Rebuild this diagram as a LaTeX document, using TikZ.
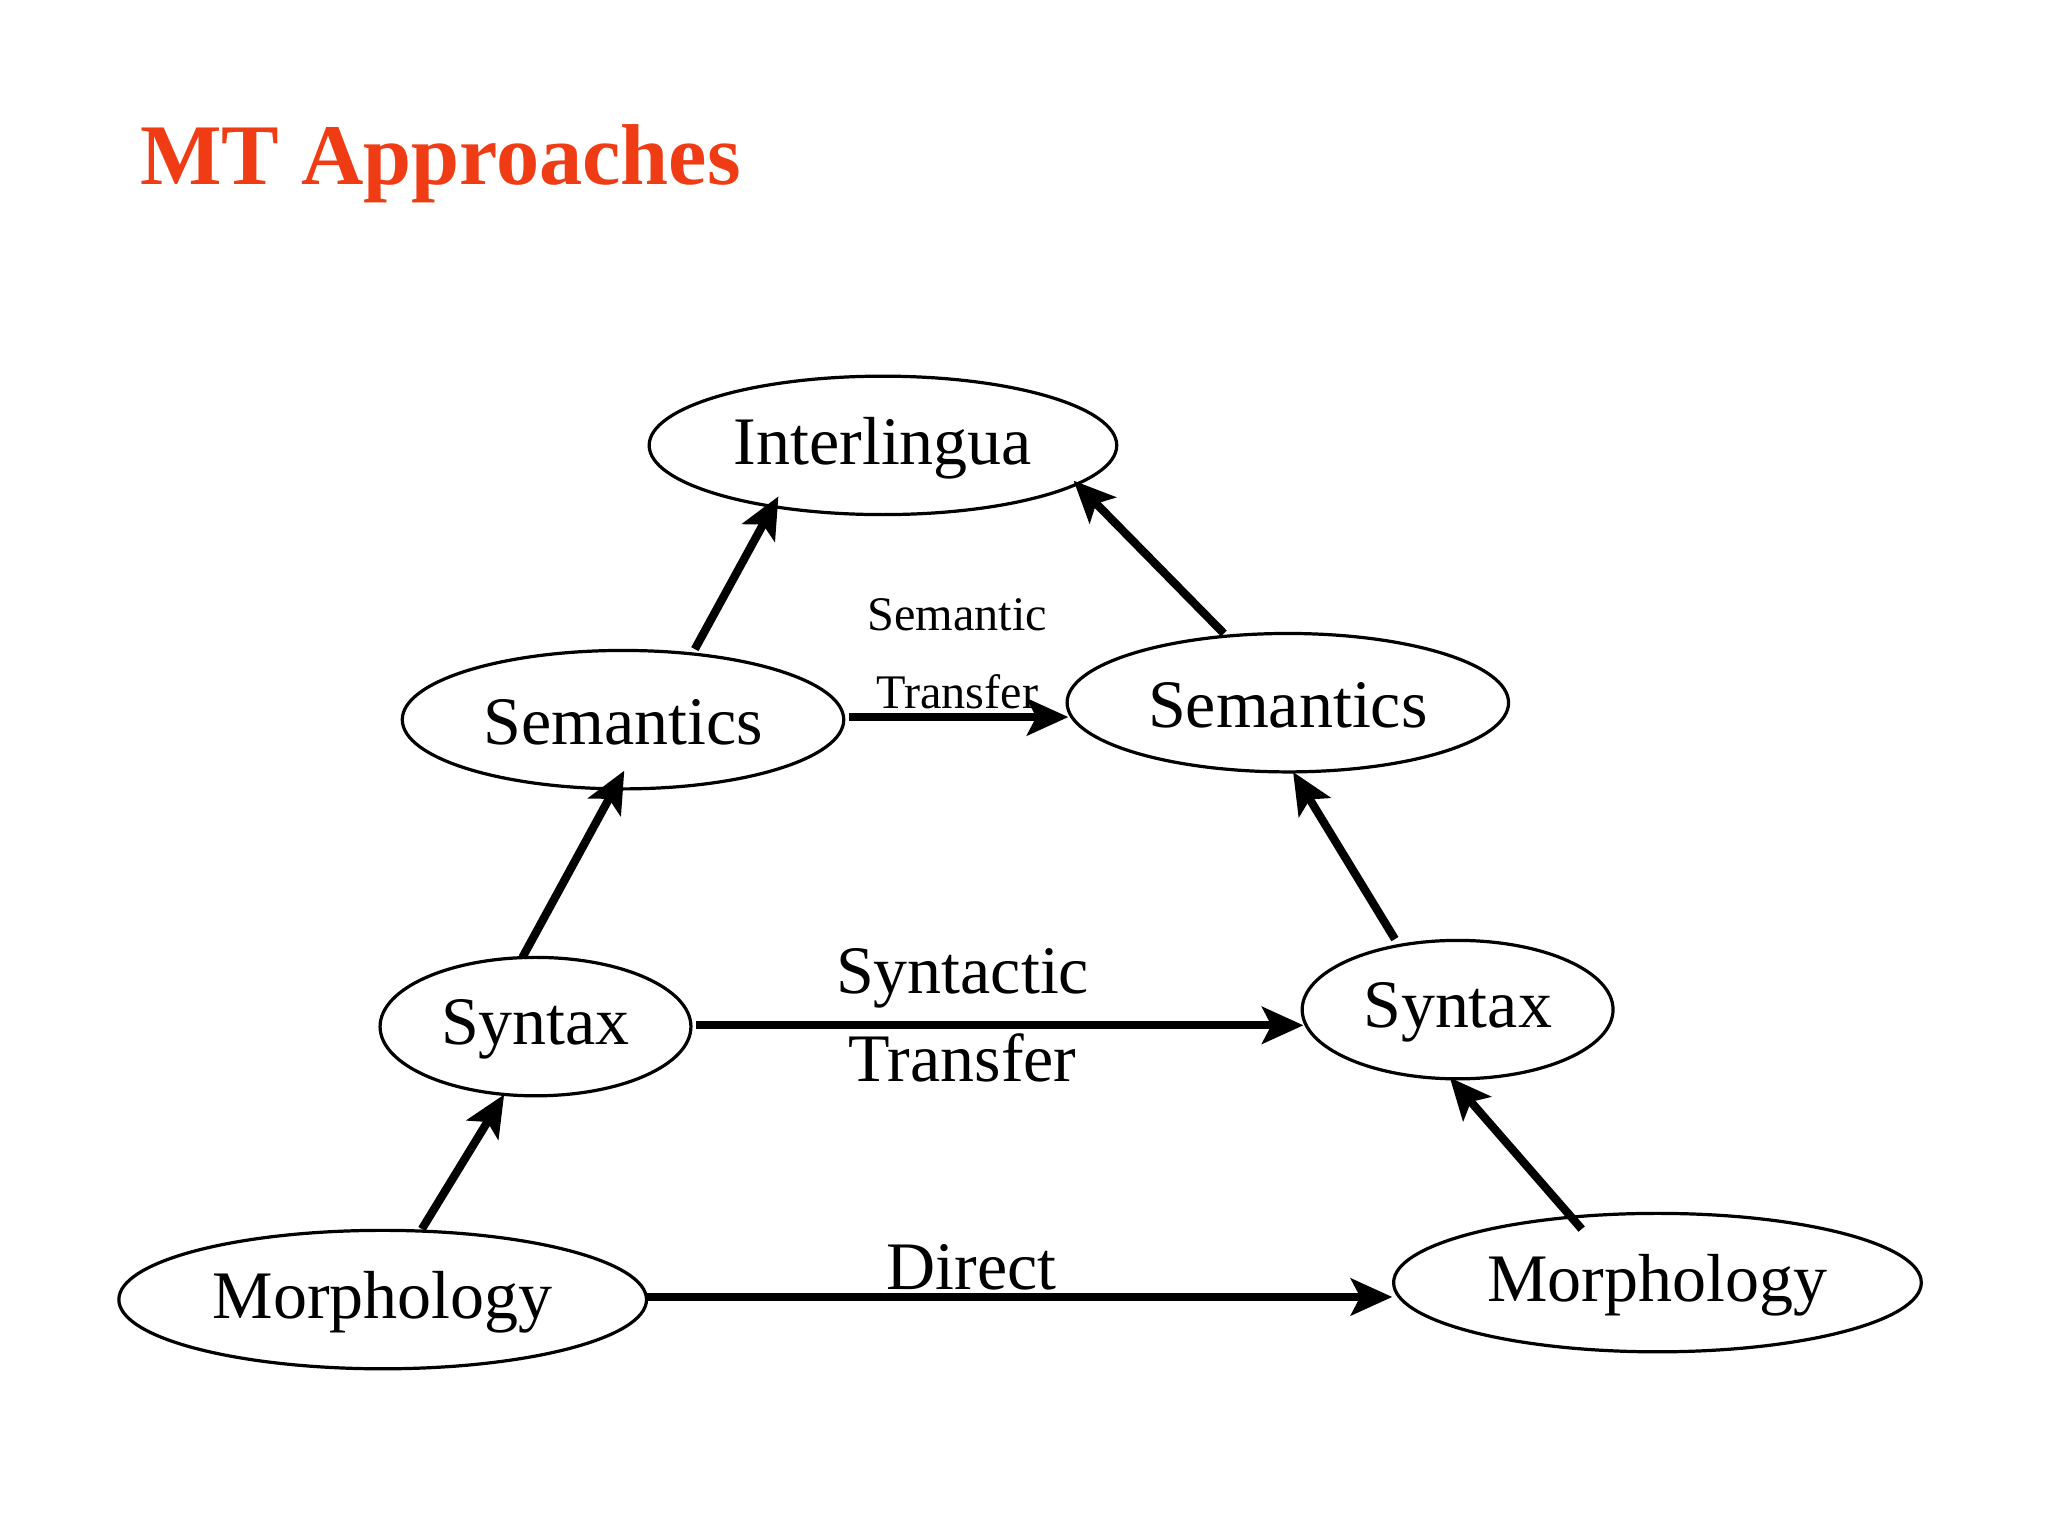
\documentclass[tikz,border=0pt]{standalone}
\usepackage{fontspec}
\setmainfont{Liberation Serif}
\usetikzlibrary{shapes.geometric,arrows.meta}
\definecolor{titlered}{RGB}{240,60,20}
\begin{document}
\begin{tikzpicture}[x=0.01cm,y=-0.01cm,
  ell/.style={draw,line width=0.7pt},
  lbl/.style={font=\fontsize{14.8}{18}\selectfont},
  slbl/.style={font=\fontsize{10.5}{12}\selectfont},
  arr/.style={line width=1.8pt,-{Stealth[length=9pt,width=8pt,inset=2pt]}}]
\useasboundingbox (0,0) rectangle (1568,1176);
\node[anchor=west,text=titlered,font=\fontsize{18.8}{22}\selectfont\bfseries] (title) at (95,125) {MT Approaches};
\draw[ell] (676,341) ellipse [x radius=179,y radius=53];
\draw[ell] (477,551) ellipse [x radius=169,y radius=53];
\draw[ell] (986,538) ellipse [x radius=169,y radius=53];
\draw[ell] (410,786) ellipse [x radius=119,y radius=53];
\draw[ell] (1116,773) ellipse [x radius=119,y radius=53];
\draw[ell] (293,995) ellipse [x radius=202,y radius=53];
\draw[ell] (1269,982) ellipse [x radius=202,y radius=53];
\node[lbl] (inter) at (676,343) {Interlingua};
\node[lbl] (semL) at (477,553) {Semantics};
\node[lbl] (semR) at (986,540) {Semantics};
\node[lbl] (synL) at (410,788) {Syntax};
\node[lbl] (synR) at (1116,775) {Syntax};
\node[lbl] (morL) at (293,997) {Morphology};
\node[lbl] (morR) at (1269,984) {Morphology};
\coordinate (a1) at (532,497); \coordinate (b1) at (596,380);
\coordinate (a2) at (937,485); \coordinate (b2) at (822,368);
\coordinate (a3) at (650,549); \coordinate (b3) at (818,549);
\coordinate (a4) at (400,733); \coordinate (b4) at (478,590);
\coordinate (a5) at (1068,719); \coordinate (b5) at (990,591);
\coordinate (a6) at (533,785); \coordinate (b6) at (998,785);
\coordinate (a7) at (323,941); \coordinate (b7) at (386,838);
\coordinate (a8) at (1211,941); \coordinate (b8) at (1110,825);
\coordinate (a9) at (494,993); \coordinate (b9) at (1066,993);
\foreach \i in {1,...,9} \draw[arr] (a\i) -- (b\i);
\node[slbl] (st1) at (733,471) {Semantic};
\node[slbl] (st2) at (733,530) {Transfer};
\node[lbl] (sy1) at (737,749) {Syntactic};
\node[lbl] (sy2) at (737,810) {Transfer};
\node[lbl] (dir) at (744,970) {Direct};
\end{tikzpicture}
\end{document}
